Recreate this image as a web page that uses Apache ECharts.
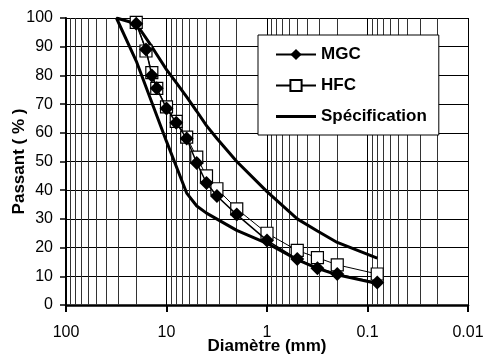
<!DOCTYPE html>
<html>
<head>
<meta charset="utf-8">
<script src="https://cdn.jsdelivr.net/npm/echarts@6/dist/echarts.min.js"></script>
<style>
  html, body { margin: 0; padding: 0; background: #fff; }
  #chart { width: 483px; height: 360px; }
</style>
</head>
<body>
<div id="chart"></div>
<script>
// sieve sizes (mm) and % passing
const sieves = [20, 16, 14, 12.5, 10, 8, 6.3, 5, 4, 3.15, 2, 1, 0.5, 0.315, 0.2, 0.08];
const mgc = [98, 89, 80, 75.5, 68.5, 63.5, 58, 49.5, 42.5, 38, 31.5, 22.5, 16, 12.8, 10.8, 7.8];
const hfc = [98.5, 88.5, 81, 75.5, 69, 64, 58.5, 51.5, 45, 40.5, 33.5, 25, 19, 16.5, 14, 10.8];

// specification envelope, drawn as one line: lower bound up, then upper bound down
const specSizes = [0.08, 0.2, 0.315, 0.5, 1, 2, 4, 5, 6.3, 10, 20, 31.5,
                   20, 14, 10, 8, 6.3, 5, 4, 3.15, 2, 1, 0.5, 0.315, 0.2, 0.08];
const specValues = [7.5, 10.5, 12.8, 15.8, 21.5, 26, 32, 34.5, 39, 57, 85, 100,
                    98, 90, 82, 77.5, 72.5, 67.5, 62.5, 58, 50, 39.5, 30, 25.8, 21.8, 16.3];

// log minor grid lines (2..9 within each decade)
const decades = [0.01, 0.1, 1, 10];
const minorSteps = [2, 3, 4, 5, 6, 7, 8, 9];

const font = 'Liberation Sans, Arial, sans-serif';

const pairs = (xs, ys) => xs.map((x, i) => [x, ys[i]]);
const minorLines = [];
decades.forEach((d) => minorSteps.forEach((m) => minorLines.push({ xAxis: +(d * m).toPrecision(3) })));

const chart = echarts.init(document.getElementById('chart'));

chart.setOption({
  animation: false,
  backgroundColor: '#fff',
  grid: { left: 66, right: 15, top: 18, bottom: 55, outerBoundsMode: 'none', containLabel: false },
  legend: {
    data: [
      { name: 'MGC' },
      { name: 'HFC' },
      { name: 'Spécification', icon: 'path://M0,0H40V3H0Z' },
    ],
    orient: 'vertical',
    left: 258,
    top: 35,
    padding: [11, 12, 10, 17],
    itemGap: 14,
    itemWidth: 40,
    itemHeight: 14,
    backgroundColor: '#fff',
    borderColor: '#000',
    borderWidth: 1,
    borderRadius: 0,
    textStyle: { fontFamily: font, fontWeight: 'bold', fontSize: 17, color: '#000' },
  },
  xAxis: {
    type: 'log',
    logBase: 10,
    min: 0.01,
    max: 100,
    inverse: true,
    name: 'Diamètre (mm)',
    nameLocation: 'middle',
    nameGap: 33,
    nameMoveOverlap: false,
    nameTextStyle: { fontFamily: font, fontWeight: 'bold', fontSize: 17, color: '#000' },
    axisLine: { onZero: false, lineStyle: { color: '#000', width: 2.5 } },
    axisTick: { show: true, length: 7, lineStyle: { color: '#000', width: 2 } },
    axisLabel: { fontFamily: font, fontSize: 16, color: '#000', margin: 20 },
    splitLine: { show: true, lineStyle: { color: '#000', width: 1 } },
  },
  yAxis: {
    type: 'value',
    min: 0,
    max: 100,
    interval: 10,
    name: 'Passant ( % )',
    nameLocation: 'middle',
    nameGap: 38,
    nameMoveOverlap: false,
    nameTextStyle: { fontFamily: font, fontWeight: 'bold', fontSize: 17, color: '#000' },
    axisLine: { show: true, lineStyle: { color: '#000', width: 2 } },
    axisTick: { show: true, length: 6, lineStyle: { color: '#000', width: 1.5 } },
    axisLabel: { fontFamily: font, fontSize: 16, color: '#000', margin: 13 },
    splitLine: { show: true, lineStyle: { color: '#000', width: 1 } },
  },
  series: [
    {
      name: 'Spécification',
      type: 'line',
      data: pairs(specSizes, specValues),
      symbol: 'none',
      lineStyle: { color: '#000', width: 3 },
      itemStyle: { color: '#000' },
      z: 2,
      markLine: {
        silent: true,
        z: 1,
        symbol: ['none', 'none'],
        label: { show: false },
        lineStyle: { color: '#333', width: 1, type: 'solid' },
        data: minorLines,
      },
    },
    {
      name: 'HFC',
      type: 'line',
      data: pairs(sieves, hfc),
      symbol: 'rect',
      symbolSize: 12,
      showAllSymbol: true,
      lineStyle: { color: '#000', width: 1 },
      itemStyle: { color: '#fff', borderColor: '#000', borderWidth: 1.2 },
      z: 3,
    },
    {
      name: 'MGC',
      type: 'line',
      data: pairs(sieves, mgc),
      symbol: 'diamond',
      symbolSize: 14,
      showAllSymbol: true,
      lineStyle: { color: '#000', width: 1.5 },
      itemStyle: { color: '#000' },
      z: 4,
    },
  ],
});
</script>
</body>
</html>
